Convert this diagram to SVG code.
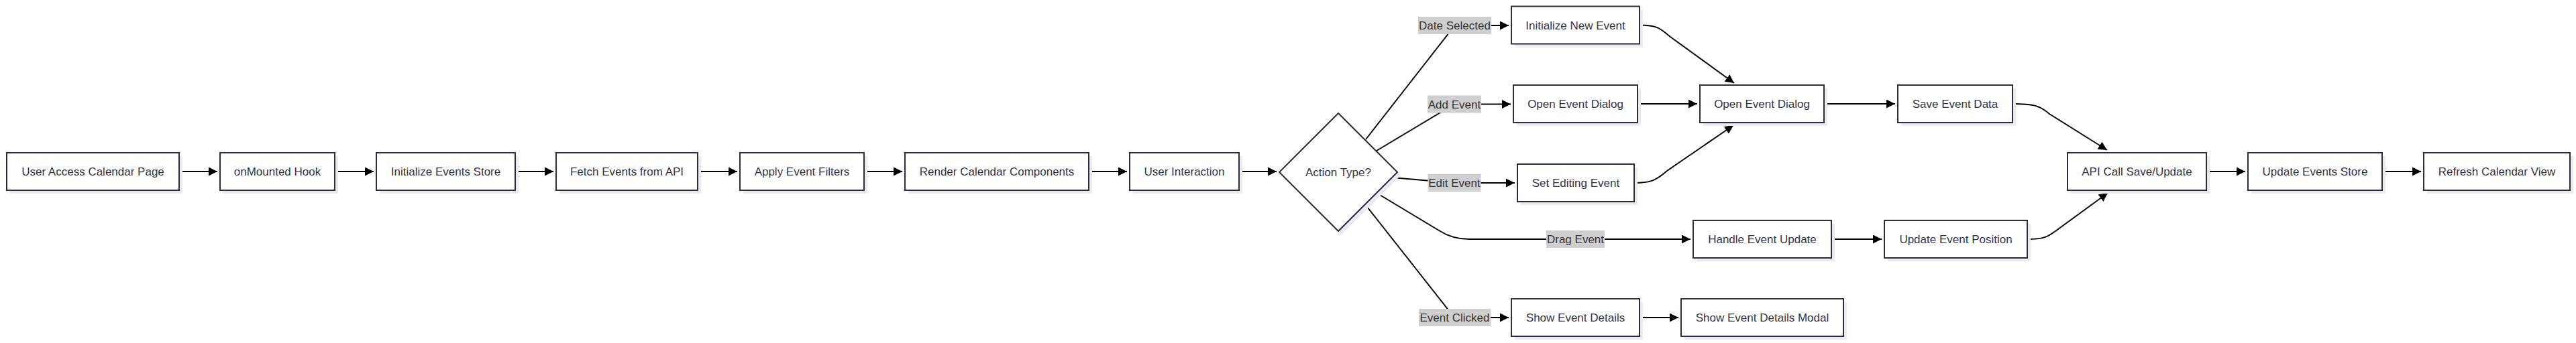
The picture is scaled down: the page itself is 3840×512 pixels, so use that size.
<svg xmlns="http://www.w3.org/2000/svg" width="3840" height="512" viewBox="0 0 3840 512">
<defs>
<marker id="arrow" viewBox="0 0 10 10" refX="10" refY="5" markerUnits="userSpaceOnUse" markerWidth="13" markerHeight="13" orient="auto">
<path d="M0,0 L10,5 L0,10 z" fill="#000"/>
</marker>
</defs>
<style>
.shadow{fill:#ebebeb;}
.box{fill:#fff;stroke:#2b2b42;stroke-width:2;}
.t{font-family:"Liberation Sans",Arial,sans-serif;font-size:17px;fill:#333344;text-anchor:middle;}
.edge{fill:none;stroke:#000;stroke-width:2;marker-end:url(#arrow);}
.edge0{fill:none;stroke:#000;stroke-width:2;}
.lbg{fill:#cfcfcf;}
.lt{font-family:"Liberation Sans",Arial,sans-serif;font-size:17px;fill:#333;text-anchor:middle;}
</style>
<rect width="3840" height="512" fill="#fff"/>
<g id="connectors">
<path class="edge" d="M267,256 L324,256"/>
<path class="edge" d="M499,256 L557,256"/>
<path class="edge" d="M768,256 L825,256"/>
<path class="edge" d="M1040,256 L1099,256"/>
<path class="edge" d="M1288,256 L1345,256"/>
<path class="edge" d="M1623,256 L1680,256"/>
<path class="edge" d="M1847,256 L1903,256"/>
<path class="edge" d="M2036,208 L2160,49 Q2168,38 2180,38 L2249,38"/>
<path class="edge" d="M2052,225 L2168,155.5 L2252,155.5"/>
<path class="edge" d="M2075,265 L2168,273 L2258,273"/>
<path class="edge" d="M2052,288 L2145,344 Q2165,357 2190,357 L2520,357"/>
<path class="edge" d="M2035,305 L2168,474 L2249,474"/>
<path class="edge" d="M2444,37.5 C2470,37.5 2475,42 2490,55 L2585,124"/>
<path class="edge" d="M2441,155 L2530,155"/>
<path class="edge" d="M2436,273 C2460,273 2468,270 2485,255 L2584,187"/>
<path class="edge" d="M2719,155 L2825,155"/>
<path class="edge" d="M3000,155 C3030,155 3040,157 3055,170 L3141,224"/>
<path class="edge" d="M2730,357 L2805,357"/>
<path class="edge" d="M3022,357 C3045,357 3052,354 3064,345 L3142,288"/>
<path class="edge" d="M2444,474 L2502,474"/>
<path class="edge" d="M3289,256 L3347,256"/>
<path class="edge" d="M3551,256 L3609,256"/>
</g>
<g id="edge-labels">
<rect class="lbg" x="2114" y="25" width="109" height="26"/>
<text class="lt" x="2168.5" y="44">Date Selected</text>
<rect class="lbg" x="2128" y="142.5" width="80" height="26"/>
<text class="lt" x="2168" y="161.5">Add Event</text>
<rect class="lbg" x="2128.5" y="260" width="79" height="26"/>
<text class="lt" x="2168" y="279">Edit Event</text>
<rect class="lbg" x="2305" y="344" width="87" height="26"/>
<text class="lt" x="2348.5" y="363">Drag Event</text>
<rect class="lbg" x="2115" y="461" width="107" height="26"/>
<text class="lt" x="2168.5" y="480">Event Clicked</text>
</g>
<g id="n-access"><rect class="shadow" x="15" y="233" width="257" height="56"/><rect class="box" x="10" y="228" width="257" height="56"/><text class="t" x="138.5" y="262">User Access Calendar Page</text></g>
<g id="n-mounted"><rect class="shadow" x="333" y="233" width="171" height="56"/><rect class="box" x="328" y="228" width="171" height="56"/><text class="t" x="413.5" y="262">onMounted Hook</text></g>
<g id="n-initstore"><rect class="shadow" x="566" y="233" width="207" height="56"/><rect class="box" x="561" y="228" width="207" height="56"/><text class="t" x="664.5" y="262">Initialize Events Store</text></g>
<g id="n-fetch"><rect class="shadow" x="834" y="233" width="211" height="56"/><rect class="box" x="829" y="228" width="211" height="56"/><text class="t" x="934.5" y="262">Fetch Events from API</text></g>
<g id="n-filters"><rect class="shadow" x="1108" y="233" width="185" height="56"/><rect class="box" x="1103" y="228" width="185" height="56"/><text class="t" x="1195.5" y="262">Apply Event Filters</text></g>
<g id="n-render"><rect class="shadow" x="1354" y="233" width="274" height="56"/><rect class="box" x="1349" y="228" width="274" height="56"/><text class="t" x="1486" y="262">Render Calendar Components</text></g>
<g id="n-interaction"><rect class="shadow" x="1689" y="233" width="163" height="56"/><rect class="box" x="1684" y="228" width="163" height="56"/><text class="t" x="1765.5" y="262">User Interaction</text></g>
<g id="n-action"><polygon class="shadow" points="1912,262 2000,174 2088,262 2000,350"/><polygon class="box" points="1907,257 1995,169 2083,257 1995,345"/><text class="t" x="1995" y="263">Action Type?</text></g>
<g id="n-initnew"><rect class="shadow" x="2258" y="14.5" width="191" height="56"/><rect class="box" x="2253" y="9.5" width="191" height="56"/><text class="t" x="2348.5" y="43.5">Initialize New Event</text></g>
<g id="n-opendlg1"><rect class="shadow" x="2261" y="132" width="185" height="56"/><rect class="box" x="2256" y="127" width="185" height="56"/><text class="t" x="2348.5" y="161">Open Event Dialog</text></g>
<g id="n-setedit"><rect class="shadow" x="2267" y="250" width="174" height="56"/><rect class="box" x="2262" y="245" width="174" height="56"/><text class="t" x="2349" y="279">Set Editing Event</text></g>
<g id="n-handle"><rect class="shadow" x="2529" y="334" width="206" height="56"/><rect class="box" x="2524" y="329" width="206" height="56"/><text class="t" x="2627" y="363">Handle Event Update</text></g>
<g id="n-showdet"><rect class="shadow" x="2258" y="451" width="191" height="56"/><rect class="box" x="2253" y="446" width="191" height="56"/><text class="t" x="2348.5" y="480">Show Event Details</text></g>
<g id="n-modal"><rect class="shadow" x="2511" y="451" width="242" height="56"/><rect class="box" x="2506" y="446" width="242" height="56"/><text class="t" x="2627" y="480">Show Event Details Modal</text></g>
<g id="n-opendlg2"><rect class="shadow" x="2539" y="132" width="185" height="56"/><rect class="box" x="2534" y="127" width="185" height="56"/><text class="t" x="2626.5" y="161">Open Event Dialog</text></g>
<g id="n-save"><rect class="shadow" x="2834" y="132" width="171" height="56"/><rect class="box" x="2829" y="127" width="171" height="56"/><text class="t" x="2914.5" y="161">Save Event Data</text></g>
<g id="n-updpos"><rect class="shadow" x="2814" y="334" width="213" height="56"/><rect class="box" x="2809" y="329" width="213" height="56"/><text class="t" x="2915.5" y="363">Update Event Position</text></g>
<g id="n-api"><rect class="shadow" x="3087" y="233" width="207" height="56"/><rect class="box" x="3082" y="228" width="207" height="56"/><text class="t" x="3185.5" y="262">API Call Save/Update</text></g>
<g id="n-updstore"><rect class="shadow" x="3356" y="233" width="200" height="56"/><rect class="box" x="3351" y="228" width="200" height="56"/><text class="t" x="3451" y="262">Update Events Store</text></g>
<g id="n-refresh"><rect class="shadow" x="3618" y="233" width="218" height="56"/><rect class="box" x="3613" y="228" width="218" height="56"/><text class="t" x="3722" y="262">Refresh Calendar View</text></g>
</svg>
